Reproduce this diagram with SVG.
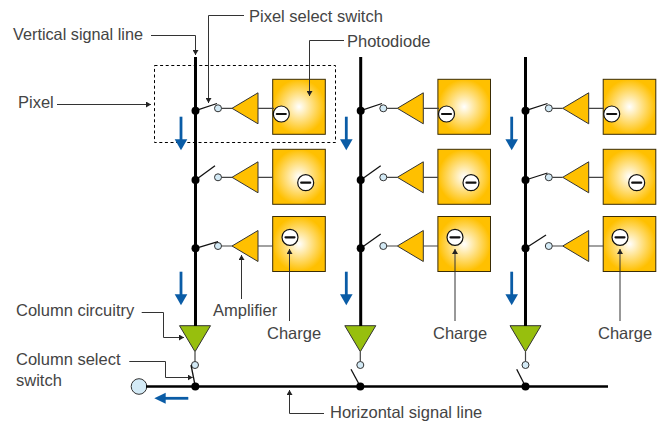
<svg xmlns="http://www.w3.org/2000/svg" width="663" height="424" viewBox="0 0 663 424">
<style>
text{font-family:"Liberation Sans",Arial,sans-serif;font-size:16.5px;fill:#444}
.sq{fill:url(#glow);stroke:#3a2c05;stroke-width:1}
.amp{fill:#ffc000;stroke:#333;stroke-width:1}
.col{fill:#97bf0d;stroke:#333;stroke-width:1}
.term{fill:#d3eaf6;stroke:#333;stroke-width:1}
.q{fill:#fff;stroke:#111;stroke-width:1.2}
.bar{stroke:#111;stroke-width:2.2;stroke-linecap:round;fill:none}
.wire{stroke:#444;stroke-width:1.2;fill:none}
.sw{stroke:#111;stroke-width:1.3;fill:none}
.v{stroke:#000;stroke-width:3;fill:none}
.h{stroke:#000;stroke-width:2.6;fill:none}
.dot{fill:#000}
.lead{stroke:#333;stroke-width:1;fill:none;marker-end:url(#tip)}
.blue{stroke:#0a5ca6;stroke-width:2.8;fill:none}
.bh{fill:#0a5ca6}
</style>
<defs>
<radialGradient id="glow" cx="50%" cy="50%" r="50%"><stop offset="0" stop-color="#fff"/><stop offset="1" stop-color="#ffc000"/></radialGradient>
<marker id="tip" markerUnits="userSpaceOnUse" markerWidth="6" markerHeight="6" refX="5" refY="3" orient="auto"><path d="M0,0 L5,3 L0,6 Z" fill="#222"/></marker>
<g id="amp1"><path class="amp" d="M0,0 L26,-15.5 L26,15.5 Z"/></g>
<g id="sq1"><rect class="sq" x="0" y="0" width="52.6" height="55"/></g>
<g id="q1"><circle class="q" r="8"/><path class="bar" d="M-4.5,0 H4.5"/></g>
<g id="down"><path class="blue" d="M0,0 V24"/><path class="bh" d="M-6.3,22.5 H6.3 L0,33.5 Z"/></g>
</defs>

<g id="pixel-1-1"><use href="#sq1" x="272.7" y="79.3"/><use href="#amp1" x="232" y="108.3"/><circle class="term" cx="218" cy="108.3" r="3.5"/><use href="#q1" x="281.3" y="114"/></g>
<g id="pixel-1-2"><use href="#sq1" x="272.7" y="149.3"/><use href="#amp1" x="232" y="177.3"/><circle class="term" cx="218" cy="177.3" r="3.5"/><use href="#q1" x="305.7" y="182.7"/></g>
<g id="pixel-1-3"><use href="#sq1" x="272.7" y="216.5"/><use href="#amp1" x="232" y="246"/><circle class="term" cx="218" cy="246" r="3.5"/><use href="#q1" x="290" y="237.3"/></g>

<g id="pixel-2-1"><use href="#sq1" x="437.9" y="79.3"/><use href="#amp1" x="397.3" y="108.3"/><circle class="term" cx="383.3" cy="108.3" r="3.5"/><use href="#q1" x="446.5" y="114"/></g>
<g id="pixel-2-2"><use href="#sq1" x="437.9" y="149.3"/><use href="#amp1" x="397.3" y="177.3"/><circle class="term" cx="383.3" cy="177.3" r="3.5"/><use href="#q1" x="471" y="182.7"/></g>
<g id="pixel-2-3"><use href="#sq1" x="437.9" y="216.5"/><use href="#amp1" x="397.3" y="246"/><circle class="term" cx="383.3" cy="246" r="3.5"/><use href="#q1" x="455" y="237.3"/></g>

<g id="pixel-3-1"><use href="#sq1" x="603.2" y="79.3"/><use href="#amp1" x="562.7" y="108.3"/><circle class="term" cx="548.8" cy="108.3" r="3.5"/><use href="#q1" x="611.7" y="114"/></g>
<g id="pixel-3-2"><use href="#sq1" x="603.2" y="149.3"/><use href="#amp1" x="562.7" y="177.3"/><circle class="term" cx="548.8" cy="177.3" r="3.5"/><use href="#q1" x="636.7" y="182.7"/></g>
<g id="pixel-3-3"><use href="#sq1" x="603.2" y="216.5"/><use href="#amp1" x="562.7" y="246"/><circle class="term" cx="548.8" cy="246" r="3.5"/><use href="#q1" x="620" y="237.3"/></g>

<g id="column-1"><path class="col" d="M179.5,325.7 H210.5 L195,351.7 Z"/><circle class="term" cx="195" cy="365" r="3.5"/></g>
<g id="column-2"><path class="col" d="M344.8,325.7 H375.8 L360.3,351.7 Z"/><circle class="term" cx="360.3" cy="365" r="3.5"/></g>
<g id="column-3"><path class="col" d="M510,325.7 H541 L525.5,351.7 Z"/><circle class="term" cx="525.5" cy="365" r="3.5"/></g>
<g id="output"><circle class="term" cx="139" cy="386.5" r="7.8"/></g>
<rect id="pixel-box" x="154.5" y="65.5" width="181" height="77" fill="none" stroke="#000" stroke-width="1" stroke-dasharray="3 2.6"/>

<g id="connectors">
<path class="v" d="M195.5,57 V326"/><path class="v" d="M360.7,57 V326"/><path class="v" d="M525.5,57 V326"/>
<path class="h" d="M146,386.5 H608"/>
<g class="wire">
<path d="M221.5,108.3 H232 M258,108.3 H274"/><path d="M221.5,177.3 H232 M258,177.3 H272.7"/><path d="M221.5,246 H232 M258,246 H272.7"/>
<path d="M386.8,108.3 H397.3 M423.3,108.3 H439"/><path d="M386.8,177.3 H397.3 M423.3,177.3 H437.9"/><path d="M386.8,246 H397.3 M423.3,246 H437.9"/>
<path d="M552.3,108.3 H562.7 M588.7,108.3 H604"/><path d="M552.3,177.3 H562.7 M588.7,177.3 H603.2"/><path d="M552.3,246 H562.7 M588.7,246 H603.2"/>
<path d="M195,351.7 V361.5 M360.3,351.7 V361.5 M525.5,351.7 V361.5"/>
</g>
<g class="sw">
<path d="M195.5,110.7 L217,103.5"/><path d="M195.5,180 L215,165.7"/><path d="M195.5,248.3 L218,241.7"/>
<path d="M360.7,110.7 L382,103.5"/><path d="M360.7,180 L380.7,165.7"/><path d="M360.7,248.3 L380.7,234"/>
<path d="M525.5,110.7 L547.5,103.5"/><path d="M525.5,180 L547.5,173"/><path d="M525.5,248.3 L546,235"/>
<path d="M191,365 L195.3,386.5"/><path d="M351,369.3 L360.3,386.5"/><path d="M516.7,369.3 L525.5,386.5"/>
</g>
<g class="dot">
<circle cx="195.5" cy="110.7" r="4"/><circle cx="195.5" cy="180" r="4"/><circle cx="195.5" cy="248.3" r="4"/>
<circle cx="360.7" cy="110.7" r="4"/><circle cx="360.7" cy="180" r="4"/><circle cx="360.7" cy="248.3" r="4"/>
<circle cx="525.5" cy="110.7" r="4"/><circle cx="525.5" cy="180" r="4"/><circle cx="525.5" cy="248.3" r="4"/>
<circle cx="195.3" cy="386.5" r="4"/><circle cx="360.3" cy="386.5" r="4"/><circle cx="525.5" cy="386.5" r="4"/>
</g>
<use href="#down" x="181" y="116.7"/><use href="#down" x="346.3" y="116.7"/><use href="#down" x="511.7" y="116.7"/>
<use href="#down" x="181" y="271.7"/><use href="#down" x="346.3" y="271.7"/><use href="#down" x="511.7" y="271.7"/>
<path class="blue" d="M188.3,398.3 H163"/><path class="bh" d="M154.3,398.3 L165.7,392.8 V403.8 Z"/>
<path class="lead" d="M151,35.5 H195.5 V55"/>
<path class="lead" d="M244,15.5 H208.5 V103"/>
<path class="lead" d="M344,40.5 H309.5 V96"/>
<path class="lead" d="M57,104.5 H151"/>
<path class="lead" d="M141.7,312.5 H163.5 V337.5 H184"/>
<path class="lead" d="M129.3,361.5 H165.5 V377.5 H192.7"/>
<path class="lead" d="M324,413.5 H289.5 V390"/>
<path class="lead" d="M241.5,299 V255"/>
<path class="lead" d="M289.5,321 V249"/><path class="lead" d="M455,321 V249"/><path class="lead" d="M620,321 V249"/>
</g>

<g id="labels">
<text x="13" y="40" textLength="130" lengthAdjust="spacingAndGlyphs">Vertical signal line</text>
<text x="249" y="22">Pixel select switch</text>
<text x="347" y="47">Photodiode</text>
<text x="18" y="107.5">Pixel</text>
<text x="213" y="315.5">Amplifier</text>
<text x="267" y="338.5">Charge</text><text x="433" y="338.5">Charge</text><text x="598" y="338.5">Charge</text>
<text x="16" y="315.5">Column circuitry</text>
<text x="16" y="365">Column select</text><text x="16" y="385.5">switch</text>
<text x="330" y="418">Horizontal signal line</text>
</g>
</svg>
